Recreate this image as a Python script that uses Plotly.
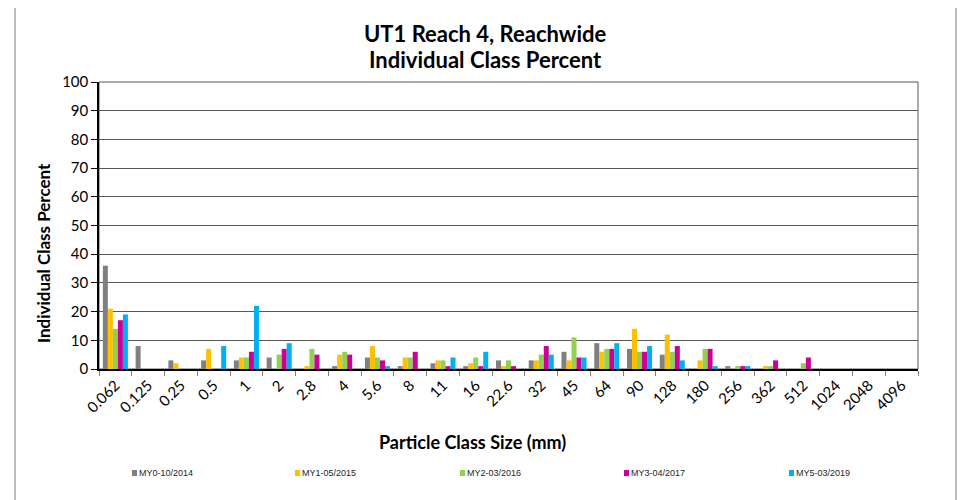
import plotly.graph_objects as go

categories = ["0.062", "0.125", "0.25", "0.5", "1", "2", "2.8", "4", "5.6", "8", "11", "16",
              "22.6", "32", "45", "64", "90", "128", "180", "256", "362", "512", "1024", "2048", "4096"]

my0_2014 = [36, 8, 3, 3, 3, 4, 0, 1, 4, 1, 2, 1, 3, 3, 6, 9, 7, 5, 0, 1, 0, 0, 0, 0, 0]
my1_2015 = [21, 0, 2, 7, 4, 0, 1, 5, 8, 4, 3, 2, 1, 3, 3, 6, 14, 12, 3, 0, 1, 0, 0, 0, 0]
my2_2016 = [14, 0, 0, 0, 4, 5, 7, 6, 4, 4, 3, 4, 3, 5, 11, 7, 6, 6, 7, 1, 1, 2, 0, 0, 0]
my3_2017 = [17, 0, 0, 0, 6, 7, 5, 5, 3, 6, 1, 1, 1, 8, 4, 7, 6, 8, 7, 1, 3, 4, 0, 0, 0]
my5_2019 = [19, 0, 0, 8, 22, 9, 0, 0, 1, 0, 4, 6, 0, 5, 4, 9, 8, 3, 1, 1, 0, 0, 0, 0, 0]

series_names = ["MY0-10/2014", "MY1-05/2015", "MY2-03/2016", "MY3-04/2017", "MY5-03/2019"]
series_values = [my0_2014, my1_2015, my2_2016, my3_2017, my5_2019]
colors = ["#808080", "#FFC000", "#92D050", "#CC0099", "#00B0F0"]

y_ticks = list(range(0, 101, 10))

title_lines = ["UT1 Reach 4, Reachwide", "Individual Class Percent"]

FONT = "Lato, Calibri, Carlito, sans-serif"

fig = go.Figure()
for name, vals, col in zip(series_names, series_values, colors):
    fig.add_trace(go.Bar(x=categories, y=vals, name=name, marker=dict(color=col, line=dict(width=0)),
                         showlegend=False))

# page body adds an 8px offset; target screen pixels are converted below
OFF = 8
L, R, T, B = 99 - OFF, 918 - OFF, 82 - OFF, 369 - OFF
W, H = R - L, B - T

def px(x):
    return (x - OFF - L) / W

def py(y):
    return (B - (y - OFF)) / H

shapes = [
    # outer chart border
    dict(type="rect", xref="paper", yref="paper", x0=px(15), x1=px(956), y0=py(540), y1=py(6),
         line=dict(color="#A6A6A6", width=1.5), layer="below"),
    # plot area frame
    dict(type="rect", xref="paper", yref="paper", x0=0, x1=1, y0=0, y1=1,
         line=dict(color="#595959", width=1), layer="below"),
]

annotations = [
    dict(text="<b>" + title_lines[0] + "</b>", xref="paper", yref="paper", x=px(485), y=py(33),
         showarrow=False, font=dict(family=FONT, size=22, color="#000000"), xanchor="center", yanchor="middle"),
    dict(text="<b>" + title_lines[1] + "</b>", xref="paper", yref="paper", x=px(485), y=py(60),
         showarrow=False, font=dict(family=FONT, size=22, color="#000000"), xanchor="center", yanchor="middle"),
    dict(text="<b>Particle Class Size (mm)</b>", xref="paper", yref="paper", x=px(472), y=py(442),
         showarrow=False, font=dict(family=FONT, size=18, color="#000000"), xanchor="center", yanchor="middle"),
    dict(text="<b>Individual Class Percent</b>", xref="paper", yref="paper", x=px(43), y=py(253),
         showarrow=False, textangle=-90, font=dict(family=FONT, size=17, color="#000000"),
         xanchor="center", yanchor="middle"),
]

legend_x = [132, 295, 460, 624, 789]
for lx, name, col in zip(legend_x, series_names, colors):
    shapes.append(dict(type="rect", xref="paper", yref="paper", x0=px(lx), x1=px(lx + 5),
                       y0=py(476), y1=py(470), fillcolor=col, line=dict(width=0)))
    annotations.append(dict(text=name, xref="paper", yref="paper", x=px(lx + 5), y=py(473),
                            showarrow=False, xanchor="left", yanchor="middle",
                            font=dict(family="Liberation Sans Narrow, Arial Narrow, sans-serif", size=9,
                                      color="#262626")))

fig.update_layout(
    width=968, height=500,
    margin=dict(l=L, r=968 - R, t=T, b=500 - B, autoexpand=False),
    paper_bgcolor="white", plot_bgcolor="white",
    barmode="group", bargap=0.235, bargroupgap=0,
    font=dict(family=FONT, color="#000000"),
    shapes=shapes, annotations=annotations,
    xaxis=dict(type="category", tickangle=-45, tickson="boundaries", ticks="outside", ticklen=5,
               tickcolor="#808080", showline=True, linecolor="#000000", linewidth=1.5,
               automargin=False,
               tickfont=dict(family=FONT, size=15, color="#000000"), showgrid=False),
    yaxis=dict(range=[0, 100], tickvals=y_ticks, ticks="outside", ticklen=6, tickcolor="#000000",
               showline=True, linecolor="#000000", linewidth=1.5, showgrid=True,
               automargin=False,
               gridcolor="#595959", gridwidth=1, zeroline=False,
               tickfont=dict(family=FONT, size=15, color="#000000")),
)

fig.write_html("out.html")
